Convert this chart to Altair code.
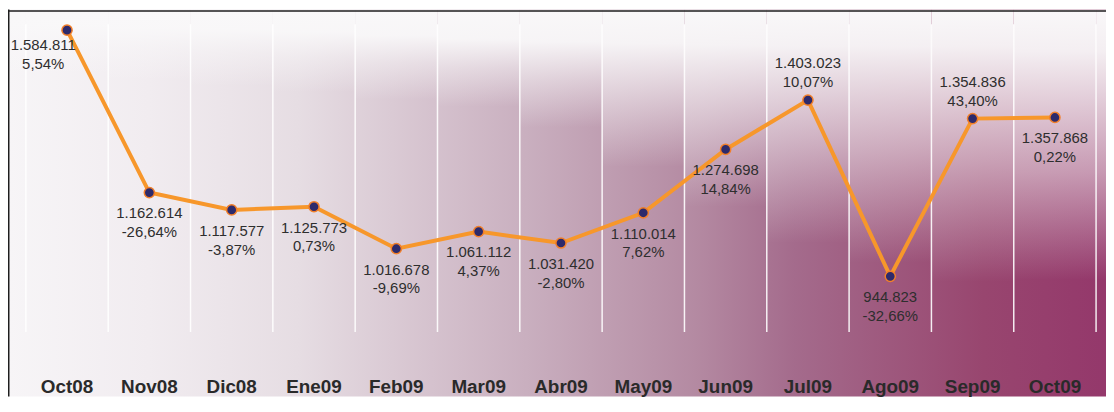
import json
import numpy as np
import altair as alt
import pandas as pd

months = ["Oct08", "Nov08", "Dic08", "Ene09", "Feb09", "Mar09", "Abr09",
          "May09", "Jun09", "Jul09", "Ago09", "Sep09", "Oct09"]
values = [1584811, 1162614, 1117577, 1125773, 1016678, 1061112, 1031420,
          1110014, 1274698, 1403023, 944823, 1354836, 1357868]
changes = ["5,54%", "-26,64%", "-3,87%", "0,73%", "-9,69%", "4,37%", "-2,80%",
           "7,62%", "14,84%", "10,07%", "-32,66%", "43,40%", "0,22%"]
labels_above = ["Jul09", "Sep09"]
labels_left = ["Oct08"]

df = pd.DataFrame({"month": months, "value": values, "change": changes})
df["label"] = [f"{v:,}".replace(",", ".") + "\n" + c for v, c in zip(values, changes)]

W, H = 1078, 310
PL, PT, PR, PB = 18, 15, 10, 65
BG_TOP, BG_BOT = -PT, H + PB          # background extent in plot coordinates
BG_H = BG_BOT - BG_TOP

one = pd.DataFrame({"a": [0]})

# ---- background: horizontal white -> plum gradient -------------------------
base_grad = alt.LinearGradient(
    gradient="linear", x1=0, y1=0, x2=1, y2=0,
    stops=[
        alt.GradientStop(color="#f7f5f7", offset=0.0),
        alt.GradientStop(color="#f1ecf0", offset=0.128),
        alt.GradientStop(color="#e6dde3", offset=0.264),
        alt.GradientStop(color="#c9afbf", offset=0.472),
        alt.GradientStop(color="#b48aa2", offset=0.626),
        alt.GradientStop(color="#a46b8c", offset=0.716),
        alt.GradientStop(color="#98466f", offset=0.888),
        alt.GradientStop(color="#94386b", offset=1.0),
    ],
)
bg = alt.Chart(one).mark_rect(fill=base_grad, strokeWidth=0).encode(
    x=alt.value(-PL), x2=alt.value(W + PR), y=alt.value(BG_TOP), y2=alt.value(BG_BOT)
)

# ---- white top fade, deeper toward the right (one strip per column) --------
fade_x = [0, 274, 504, 774, 964, 1078]      # plot-x anchors
fade_95 = [0, 7, 17, 22, 22, 30]           # plot-y where fade is ~opaque white
fade_50 = [17, 32, 47, 117, 140, 155]
fade_00 = [47, 67, 87, 217, 262, 255]


def fade_grad(px):
    y95 = float(np.interp(px, fade_x, fade_95))
    y50 = float(np.interp(px, fade_x, fade_50))
    y00 = float(np.interp(px, fade_x, fade_00))
    off = lambda y: max(0.0, min(1.0, (y - BG_TOP) / BG_H))
    return alt.LinearGradient(
        gradient="linear", x1=0, y1=0, x2=0, y2=1,
        stops=[
            alt.GradientStop(color="rgba(249,248,249,1)", offset=0.0),
            alt.GradientStop(color="rgba(249,248,249,0.95)", offset=off(y95)),
            alt.GradientStop(color="rgba(249,248,249,0.5)", offset=off(y50)),
            alt.GradientStop(color="rgba(249,248,249,0)", offset=off(y00)),
            alt.GradientStop(color="rgba(249,248,249,0)", offset=1.0),
        ],
    )


xscale = alt.Scale(type="band", paddingInner=0, paddingOuter=0, domain=months)
xaxis = alt.Axis(title=None, labelAngle=0, ticks=False, tickSize=0, domain=False, grid=False,
                 labelFont="Liberation Sans", labelFontWeight="bold", labelFontSize=19,
                 labelColor="#2a2a2a", labelPadding=46, zindex=1)
x_center = alt.X("month:N", sort=months, scale=xscale, axis=xaxis)
y_enc = alt.Y("value:Q", scale=alt.Scale(domain=[800000, 1600000], nice=False, zero=False), axis=None)

band_w = W / len(months)
strips = []
for i, m in enumerate(months):
    strips.append(
        alt.Chart(df).transform_filter(alt.datum.month == m)
        .mark_rect(fill=fade_grad((i + 0.5) * band_w), strokeWidth=0)
        .encode(x=x_center, y=alt.value(BG_TOP), y2=alt.value(BG_BOT))
    )
strips.append(alt.Chart(one).mark_rect(fill=fade_grad(0.5 * band_w), strokeWidth=0).encode(
    x=alt.value(-PL), x2=alt.value(0), y=alt.value(BG_TOP), y2=alt.value(BG_BOT)))
strips.append(alt.Chart(one).mark_rect(fill=fade_grad(W - 0.5 * band_w), strokeWidth=0).encode(
    x=alt.value(W), x2=alt.value(W + PR), y=alt.value(BG_TOP), y2=alt.value(BG_BOT)))

base = alt.Chart(df)

grid = base.mark_rule(color="white", strokeWidth=1.5, opacity=0.9).encode(
    x=alt.X("month:N", sort=months, scale=xscale, axis=xaxis, bandPosition=0)
)
grid_last = alt.Chart(one).mark_rule(color="white", strokeWidth=1.5, opacity=0.9).encode(
    x=alt.value(W), y=alt.value(0), y2=alt.value(H)
)

border_left = alt.Chart(one).mark_rule(color="#1e1e1e", strokeWidth=1.5).encode(
    x=alt.value(-PL + 0.75), y=alt.value(BG_TOP), y2=alt.value(BG_BOT)
)
border_top = alt.Chart(one).mark_rule(color="#1e1e1e", strokeWidth=1.5).encode(
    x=alt.value(-PL), x2=alt.value(W + PR), y=alt.value(-PT + 1.5)
)

line = base.mark_line(color="#f7972b", strokeWidth=4).encode(x=x_center, y=y_enc)
points = base.mark_circle(size=105, color="#2d2a6b", opacity=1, stroke="#f27f2a", strokeWidth=1.5).encode(
    x=x_center, y=y_enc
)

special = labels_above + labels_left
txt_style = dict(font="Liberation Sans", fontSize=15, color="#2e2e2e", lineBreak="\n",
                 lineHeight=19, align="center")

t_below = base.transform_filter(
    f"indexof({json.dumps(special)}, datum.month) < 0"
).mark_text(baseline="top", dy=14, **txt_style).encode(x=x_center, y=y_enc, text="label:N")
t_above = base.transform_filter(
    f"indexof({json.dumps(labels_above)}, datum.month) >= 0"
).mark_text(baseline="bottom", dy=-29, **txt_style).encode(x=x_center, y=y_enc, text="label:N")
t_left = base.transform_filter(
    f"indexof({json.dumps(labels_left)}, datum.month) >= 0"
).mark_text(baseline="top", dy=8, dx=-24, **txt_style).encode(x=x_center, y=y_enc, text="label:N")

chart = alt.layer(
    bg, *strips, grid, grid_last, border_left, border_top,
    line, points, t_below, t_above, t_left
).properties(
    width=W, height=H,
    padding={"left": PL, "top": PT, "right": PR, "bottom": PB},
    autosize=alt.AutoSizeParams(type="none"),
    background="white",
).configure_view(stroke=None)

chart.save("out.html", embed_options={"renderer": "svg", "actions": False})
